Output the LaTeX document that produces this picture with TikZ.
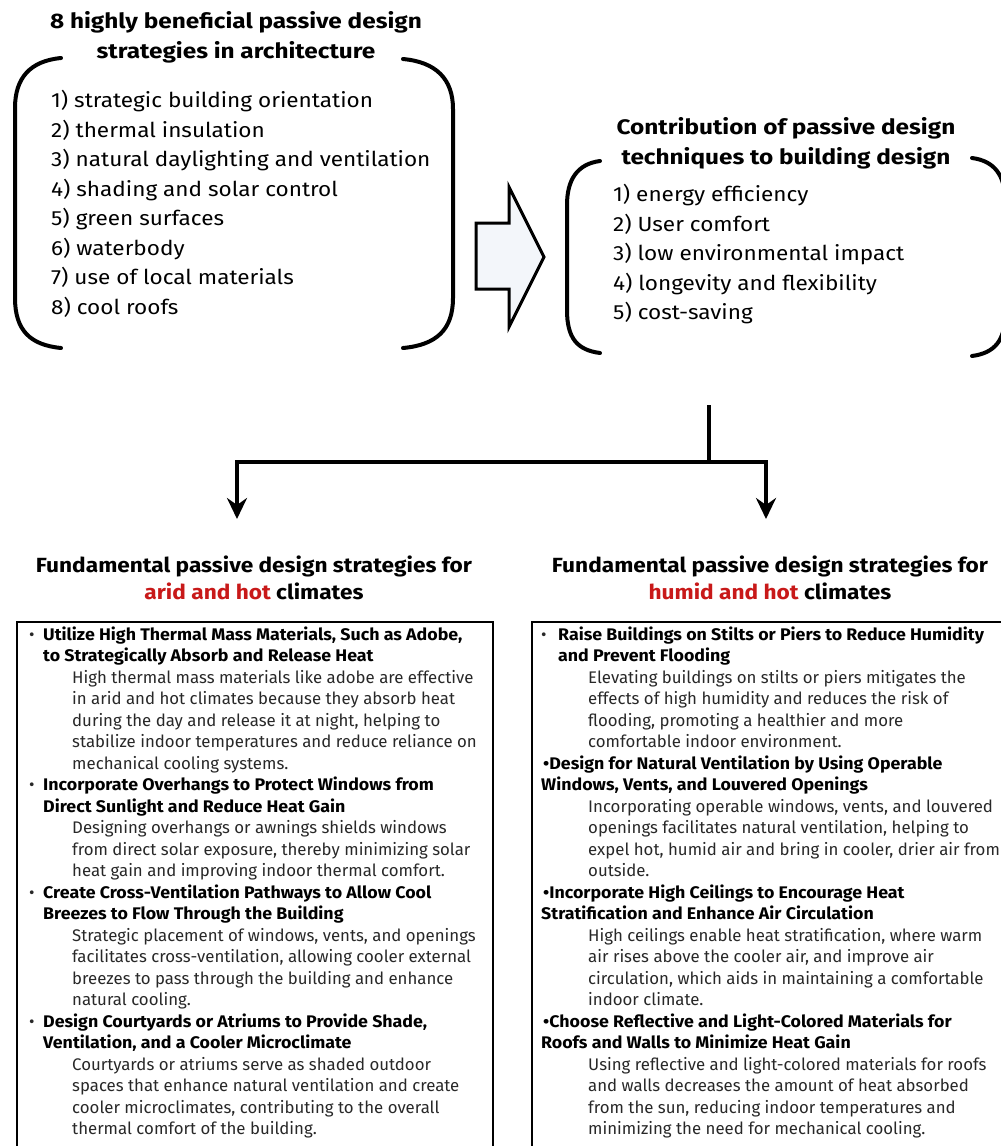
\documentclass[tikz,border=0pt]{standalone}
\usepackage{fontspec}
\usepackage{graphicx}
\setmainfont{Fira Sans}
\usetikzlibrary{arrows.meta}
\definecolor{hotred}{RGB}{200,25,25}
\definecolor{arrowfill}{RGB}{243,246,250}
\definecolor{bodygray}{RGB}{40,40,40}
\newcommand\lhang{\hspace*{14pt}}
\newcommand\lbody{\hspace*{43pt}}
\newcommand\rhang{\hspace*{17pt}}
\newcommand\rbody{\hspace*{47pt}}
\newcommand\bhd[1]{{\color{black}\bfseries\addfontfeature{FakeStretch=1.06}#1}}
\begin{document}
\begin{tikzpicture}[x=1pt,y=-1pt,
  bracket/.style={line width=4pt, line cap=round},
  ttl/.style={font=\bfseries\fontsize{21}{30}\selectfont\addfontfeature{FakeStretch=1.16}, align=center, inner sep=0},
  lst/.style={font=\fontsize{20.5}{29.5}\selectfont\addfontfeature{FakeStretch=1.1}, align=left, anchor=north west, inner sep=0},
  hd/.style={font=\bfseries\fontsize{20.5}{27}\selectfont\addfontfeature{FakeStretch=1.105}, align=center, inner sep=0},
  boxframe/.style={draw, line width=2pt, anchor=north west, inner sep=0},
  btxt/.style={font=\fontsize{16.8}{21.5}\selectfont, text=bodygray, align=left, anchor=north west, inner sep=0},
  conn/.style={line width=4pt, line join=miter},
  tipdown/.style={-{Stealth[length=21pt,width=20pt,inset=7pt]}}
]
\useasboundingbox (0,0) rectangle (1001,1146);
\clip (0,0) rectangle (1001,1146);

% top-left group
\node[ttl] (t1) at (236,37) {8 highly beneficial passive design\\strategies in architecture};
\node[lst] (l1) at (51,87) {\strut 1) strategic building orientation\\
2) thermal insulation\\
3) natural daylighting and ventilation\\
4) shading and solar control\\
5) green surfaces\\
6) waterbody\\
7) use of local materials\\
8) cool roofs};
\draw[bracket] (61,58) .. controls (30,61) and (15,78) .. (15,108) -- (15,298) .. controls (15,330) and (30,345) .. (61,348);
\draw[bracket] (403,59) .. controls (436,62) and (453,79) .. (453,109) -- (453,298) .. controls (453,330) and (436,345) .. (403,348);

% block arrow
\draw[line width=3pt, fill=arrowfill, line join=miter] (476,223) -- (509,223) -- (509,187) -- (544,257) -- (509,327) -- (509,289) -- (476,289) -- cycle;

% top-right group
\node[ttl] (t2) at (786,143) {Contribution of passive design\\techniques to building design};
\node[lst] (l2) at (613,181) {\strut 1) energy efficiency\\
2) User comfort\\
3) low environmental impact\\
4) longevity and flexibility\\
5) cost-saving};
\draw[bracket] (600,161) .. controls (577,164) and (567,180) .. (567,205) -- (567,310) .. controls (567,338) and (577,350) .. (600,353);
\draw[bracket] (972,158) .. controls (995,161) and (1005,176) .. (1005,200) -- (1005,315) .. controls (1005,340) and (995,353) .. (972,356);

% connectors
\coordinate (src) at (709,405);
\coordinate (jn) at (709,462);
\coordinate (a1) at (237,519);
\coordinate (a2) at (766,519);
\draw[conn] (src) -- (jn);
\draw[conn,tipdown] (jn) -| (a1);
\draw[conn,tipdown] (jn) -| (a2);

% headings
\node[hd] (h1) at (254,578) {Fundamental passive design strategies for\\\textcolor{hotred}{arid and hot} climates};
\node[hd] (h2) at (770,578) {Fundamental passive design strategies for\\\textcolor{hotred}{humid and hot} climates};

% boxes
\node[boxframe, minimum width=476pt, minimum height=560pt] (b1) at (16,621) {};
\node[boxframe, minimum width=500pt, minimum height=560pt] (b2) at (531,621) {};

\node[btxt] (b1t) at (29,625) {\strut\makebox[14pt][l]{•}\bhd{Utilize High Thermal Mass Materials, Such as Adobe,}\\
\lhang\bhd{to Strategically Absorb and Release Heat}\\
\lbody High thermal mass materials like adobe are effective\\
\lbody in arid and hot climates because they absorb heat\\
\lbody during the day and release it at night, helping to\\
\lbody stabilize indoor temperatures and reduce reliance on\\
\lbody mechanical cooling systems.\\
\makebox[14pt][l]{•}\bhd{Incorporate Overhangs to Protect Windows from}\\
\lhang\bhd{Direct Sunlight and Reduce Heat Gain}\\
\lbody Designing overhangs or awnings shields windows\\
\lbody from direct solar exposure, thereby minimizing solar\\
\lbody heat gain and improving indoor thermal comfort.\\
\makebox[14pt][l]{•}\bhd{Create Cross-Ventilation Pathways to Allow Cool}\\
\lhang\bhd{Breezes to Flow Through the Building}\\
\lbody Strategic placement of windows, vents, and openings\\
\lbody facilitates cross-ventilation, allowing cooler external\\
\lbody breezes to pass through the building and enhance\\
\lbody natural cooling.\\
\makebox[14pt][l]{•}\bhd{Design Courtyards or Atriums to Provide Shade,}\\
\lhang\bhd{Ventilation, and a Cooler Microclimate}\\
\lbody Courtyards or atriums serve as shaded outdoor\\
\lbody spaces that enhance natural ventilation and create\\
\lbody cooler microclimates, contributing to the overall\\
\lbody thermal comfort of the building.};

\node[btxt] (b2t) at (541,625) {\strut\makebox[17pt][l]{•}\bhd{Raise Buildings on Stilts or Piers to Reduce Humidity}\\
\rhang\bhd{and Prevent Flooding}\\
\rbody Elevating buildings on stilts or piers mitigates the\\
\rbody effects of high humidity and reduces the risk of\\
\rbody flooding, promoting a healthier and more\\
\rbody comfortable indoor environment.\\
\hspace*{2pt}\bhd{•Design for Natural Ventilation by Using Operable}\\
\bhd{Windows, Vents, and Louvered Openings}\\
\rbody Incorporating operable windows, vents, and louvered\\
\rbody openings facilitates natural ventilation, helping to\\
\rbody expel hot, humid air and bring in cooler, drier air from\\
\rbody outside.\\
\hspace*{2pt}\bhd{•Incorporate High Ceilings to Encourage Heat}\\
\bhd{Stratification and Enhance Air Circulation}\\
\rbody High ceilings enable heat stratification, where warm\\
\rbody air rises above the cooler air, and improve air\\
\rbody circulation, which aids in maintaining a comfortable\\
\rbody indoor climate.\\
\hspace*{2pt}\bhd{•Choose Reflective and Light-Colored Materials for}\\
\bhd{Roofs and Walls to Minimize Heat Gain}\\
\rbody Using reflective and light-colored materials for roofs\\
\rbody and walls decreases the amount of heat absorbed\\
\rbody from the sun, reducing indoor temperatures and\\
\rbody minimizing the need for mechanical cooling.};
\end{tikzpicture}
\end{document}
